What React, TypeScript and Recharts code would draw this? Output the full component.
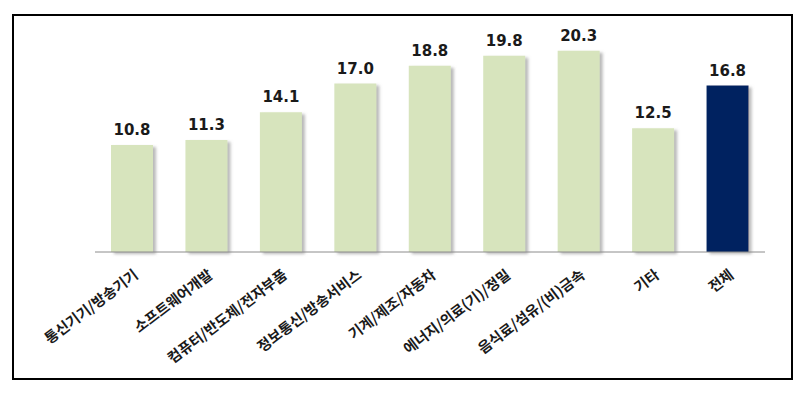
import { Bar, BarChart, Cell, LabelList, XAxis, YAxis } from "recharts";

const industries = [
  "통신기기/방송기기",
  "소프트웨어개발",
  "컴퓨터/반도체/전자부품",
  "정보통신/방송서비스",
  "기계/제조/자동차",
  "에너지/의료(기)/정밀",
  "음식료/섬유/(비)금속",
  "기타",
  "전체",
];
const rates = [10.8, 11.3, 14.1, 17.0, 18.8, 19.8, 20.3, 12.5, 16.8];

const TOTAL = "전체";
const data = industries.map((name, i) => ({ name, rate: rates[i] }));

const labelFont = "'Noto Sans CJK KR', 'Noto Sans', sans-serif";

function CategoryTick({ x, y, payload }: any) {
  return (
    <g transform={`translate(${x + 7},${y + 17})`}>
      <text
        textAnchor="end"
        transform="rotate(-37)"
        fontSize={14.5}
        fontWeight={700}
        fill="#1a1a1a"
        fontFamily={labelFont}
      >
        {payload.value}
      </text>
    </g>
  );
}

export default function App() {
  return (
    <div style={{ position: "absolute", left: 0, top: 0, width: 804, height: 400, background: "#fff" }}>
      <div
        style={{
          position: "absolute",
          left: 12,
          top: 14,
          width: 777,
          height: 362,
          border: "2px solid #000",
        }}
      />
      <div style={{ position: "absolute", left: 0, top: 0 }}>
        <BarChart
          width={804}
          height={400}
          data={data}
          margin={{ top: 34, right: 39, bottom: 48, left: 95 }}
        >
          <defs>
            <filter id="barShadow" x="-20%" y="-10%" width="150%" height="130%">
              <feDropShadow dx={3} dy={2} stdDeviation={1.5} floodColor="#7f7f7f" floodOpacity={0.55} />
            </filter>
          </defs>
          <XAxis
            dataKey="name"
            interval={0}
            height={100}
            tickLine={false}
            axisLine={{ stroke: "#8c8c8c", strokeWidth: 1 }}
            tick={<CategoryTick />}
          />
          <YAxis hide domain={[0, 22]} />
          <Bar dataKey="rate" barSize={42} isAnimationActive={false} filter="url(#barShadow)">
            {data.map((d) => (
              <Cell key={d.name} fill={d.name === TOTAL ? "#002060" : "#d7e4bd"} />
            ))}
            <LabelList
              dataKey="rate"
              position="top"
              offset={10}
              formatter={(v: any) => Number(v).toFixed(1)}
              style={{
                fontFamily: "'DejaVu Sans', Verdana, sans-serif",
                fontSize: 15,
                fontWeight: 700,
                fill: "#1a1a1a",
              }}
            />
          </Bar>
        </BarChart>
      </div>
    </div>
  );
}
